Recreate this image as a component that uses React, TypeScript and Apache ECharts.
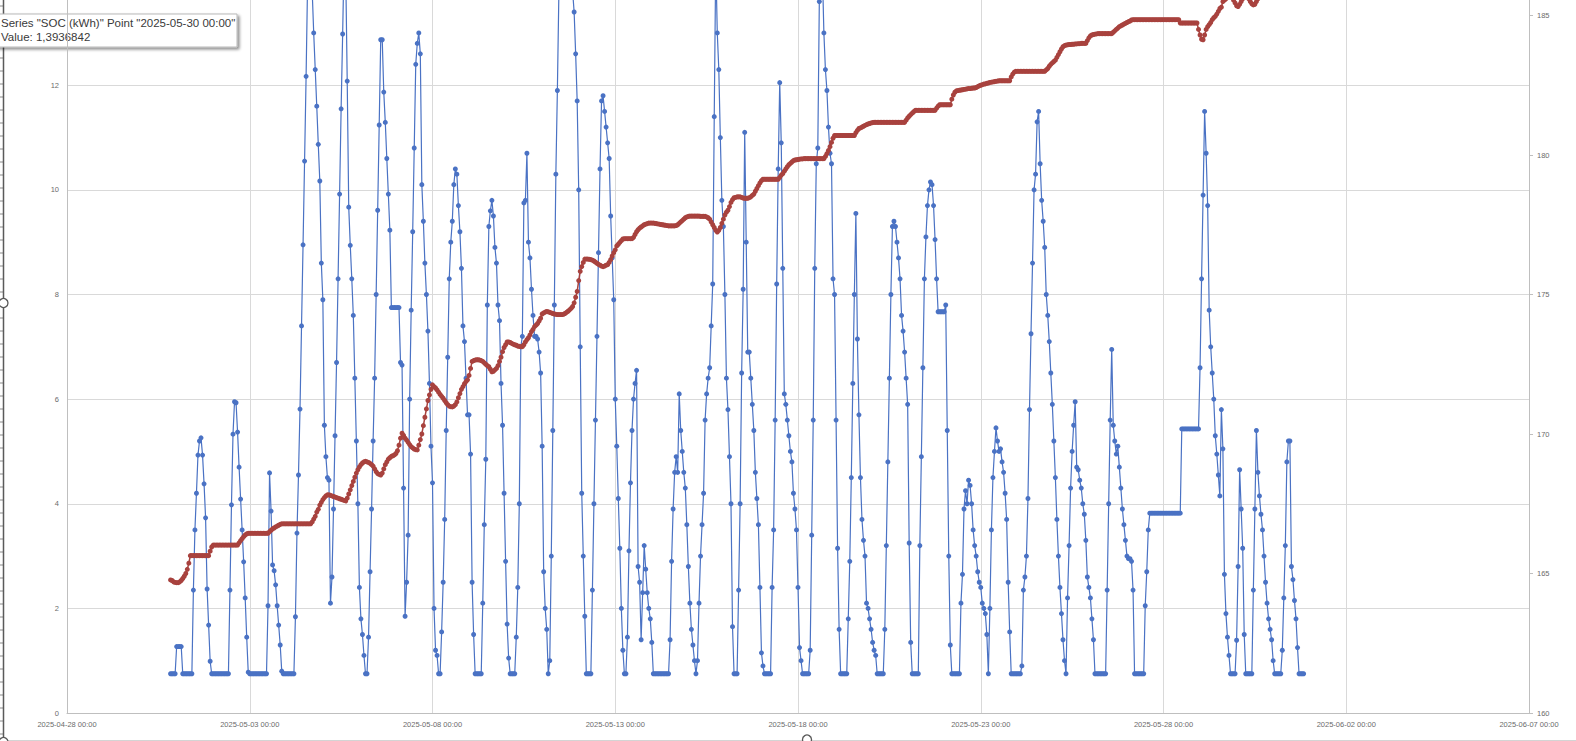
import React, { useEffect, useRef } from "react";
import * as echarts from "echarts";

// x axis: days since 2025-04-28 00:00
const X_ORIGIN = Date.UTC(2025, 3, 28);
const xTickLabels = [
  "2025-04-28 00:00", "2025-05-03 00:00", "2025-05-08 00:00", "2025-05-13 00:00",
  "2025-05-18 00:00", "2025-05-23 00:00", "2025-05-28 00:00", "2025-06-02 00:00", "2025-06-07 00:00",
];

// hourly readings, one row per day (first row starts 2025-04-30 20:00)
const dayDates = [
  "2025-04-30", "2025-05-01", "2025-05-02", "2025-05-03", "2025-05-04", "2025-05-05", "2025-05-06",
  "2025-05-07", "2025-05-08", "2025-05-09", "2025-05-10", "2025-05-11", "2025-05-12", "2025-05-13",
  "2025-05-14", "2025-05-15", "2025-05-16", "2025-05-17", "2025-05-18", "2025-05-19", "2025-05-20",
  "2025-05-21", "2025-05-22", "2025-05-23", "2025-05-24", "2025-05-25", "2025-05-26", "2025-05-27",
  "2025-05-28", "2025-05-29", "2025-05-30", "2025-05-31",
];
const dayFirstHour = [20, 0, 0, 0, 0, 0, 0, 0, 0, 0, 0, 0, 0, 0, 0, 0, 0, 0, 0, 0, 0, 0, 0, 0, 0, 0, 0, 0, 0, 0, 0, 0];

const socDays: number[][] = [
  [0.75, 0.75, 0.75, 0.75],
  [1.27, 1.27, 1.27, 1.27, 0.75, 0.75, 0.75, 0.75, 0.75, 0.75, 0.75, 2.35, 3.5, 4.2, 4.93, 5.2, 5.26, 4.93, 4.38, 3.73, 2.37, 1.68, 0.99, 0.75],
  [0.75, 0.75, 0.75, 0.75, 0.75, 0.75, 0.75, 0.75, 0.75, 0.75, 0.75, 2.35, 3.98, 5.33, 5.95, 5.93, 5.37, 4.7, 4.09, 3.5, 2.89, 2.2, 1.45, 0.78],
  [0.75, 0.75, 0.75, 0.75, 0.75, 0.75, 0.75, 0.75, 0.75, 0.75, 0.75, 0.75, 2.05, 4.59, 3.86, 2.83, 2.72, 2.45, 2.05, 1.68, 1.3, 0.8, 0.75, 0.75],
  [0.75, 0.75, 0.75, 0.75, 0.75, 0.75, 1.84, 3.44, 4.55, 5.81, 7.4, 8.95, 10.55, 12.17, 14.0, 14.8, 14.6, 13.8, 13.0, 12.3, 11.6, 10.87, 10.17, 8.6],
  [7.9, 5.5, 4.9, 4.5, 4.45, 2.1, 2.6, 3.9, 5.3, 6.7, 8.3, 9.92, 11.55, 12.98, 14.5, 14.2, 12.08, 9.67, 8.94, 8.3, 7.6, 6.4, 5.2, 4.0],
  [2.4, 1.8, 1.5, 1.1, 0.75, 0.75, 1.45, 2.7, 3.9, 5.2, 6.4, 8.0, 9.61, 11.24, 12.87, 12.87, 11.87, 11.29, 10.6, 9.92, 9.23, 7.75, 7.75, 7.75],
  [7.75, 7.75, 7.75, 6.7, 6.65, 4.3, 1.85, 2.5, 3.4, 6.0, 7.7, 9.2, 10.8, 12.4, 12.8, 13.0, 12.6, 10.1, 9.4, 8.6, 8.0, 7.3, 6.3, 5.1],
  [4.4, 2.0, 1.2, 1.1, 0.75, 0.75, 1.55, 2.5, 3.7, 5.4, 6.8, 8.3, 9.0, 9.4, 10.1, 10.4, 10.3, 9.7, 9.2, 8.5, 7.4, 7.1, 6.4, 5.7],
  [5.7, 4.95, 2.5, 1.5, 0.75, 0.75, 0.75, 0.75, 0.75, 2.1, 3.6, 4.85, 7.8, 9.3, 9.6, 9.8, 9.5, 8.9, 8.6, 7.8, 7.5, 6.3, 5.5, 4.2],
  [2.9, 1.7, 1.05, 0.75, 0.75, 0.75, 0.75, 1.45, 2.4, 4.0, 7.0, 7.2, 9.75, 9.8, 10.7, 9.0, 8.7, 8.1, 7.6, 7.2, 7.2, 7.15, 6.9, 6.5],
  [5.1, 2.7, 2.0, 1.6, 0.75, 1.0, 3.0, 5.4, 7.8, 10.3, 11.9, 13.8, 14.6, 15.0, 15.2, 15.2, 15.0, 14.8, 14.6, 14.2, 13.8, 13.4, 12.6, 11.7],
  [10.0, 7.0, 4.2, 3.0, 1.85, 0.75, 0.75, 0.75, 0.75, 2.35, 4.0, 5.6, 7.2, 8.8, 10.4, 11.7, 11.8, 11.5, 11.2, 10.9, 10.6, 9.5, 8.7, 7.9],
  [6.0, 5.1, 4.1, 3.15, 2.0, 1.2, 0.75, 0.75, 1.45, 3.1, 4.4, 5.4, 6.0, 6.3, 6.55, 2.8, 2.5, 1.4, 2.3, 3.2, 2.75, 2.3, 2.0, 1.8],
  [1.35, 0.75, 0.75, 0.75, 0.75, 0.75, 0.75, 0.75, 0.75, 0.75, 0.75, 0.75, 1.4, 2.9, 3.9, 4.6, 4.9, 4.6, 6.1, 5.4, 5.0, 4.6, 4.3, 3.6],
  [2.8, 2.1, 1.6, 1.3, 1.0, 0.75, 1.0, 2.1, 3.0, 3.6, 4.2, 5.6, 6.1, 6.4, 6.6, 7.4, 8.2, 11.4, 14.4, 13.0, 12.3, 11.0, 9.8, 9.3],
  [8.0, 6.4, 5.8, 4.9, 4.0, 1.65, 0.75, 0.75, 0.75, 2.35, 4.0, 6.5, 8.1, 11.1, 9.0, 6.9, 6.9, 6.4, 5.9, 5.4, 4.6, 4.1, 3.6, 2.4],
  [1.15, 0.9, 0.75, 0.75, 0.75, 0.75, 0.75, 2.4, 3.5, 5.6, 8.2, 10.4, 12.05, 10.9, 8.5, 6.1, 5.9, 5.6, 5.3, 5.0, 4.8, 4.2, 3.9, 3.5],
  [2.4, 1.25, 1.0, 0.75, 0.75, 0.75, 0.75, 0.75, 1.2, 3.4, 5.6, 8.5, 10.5, 10.8, 13.6, 14.2, 14.2, 13.0, 12.3, 11.9, 11.2, 10.7, 10.5, 8.3],
  [8.0, 5.6, 3.15, 1.6, 0.75, 0.75, 0.75, 0.75, 0.75, 1.8, 2.9, 4.5, 6.3, 8.0, 9.55, 7.15, 5.7, 4.5, 3.7, 3.3, 3.0, 2.1, 2.0, 1.8],
  [1.6, 1.35, 1.2, 1.1, 0.75, 0.75, 0.75, 0.75, 0.75, 1.6, 3.2, 4.8, 6.4, 8.0, 9.3, 9.4, 9.3, 9.0, 8.7, 8.3, 7.6, 7.3, 6.9, 6.4],
  [5.9, 3.25, 1.35, 0.75, 0.75, 0.75, 0.75, 0.75, 3.2, 4.9, 6.6, 8.3, 9.1, 9.7, 10.0, 10.15, 10.1, 9.7, 9.05, 8.3, 7.67, 7.67, 7.67, 7.67],
  [7.67, 7.8, 5.4, 3.0, 1.3, 0.75, 0.75, 0.75, 0.75, 0.75, 0.75, 2.1, 2.65, 3.9, 4.25, 4.0, 4.45, 4.35, 4.0, 3.5, 3.2, 3.0, 2.7, 2.5],
  [2.4, 2.1, 2.0, 1.9, 1.5, 0.75, 2.0, 3.5, 4.5, 5.0, 5.45, 5.2, 5.0, 5.05, 4.8, 4.6, 4.2, 3.7, 2.5, 1.55, 0.75, 0.75, 0.75, 0.75],
  [0.75, 0.75, 0.75, 0.9, 2.35, 2.6, 3.0, 4.1, 5.8, 7.25, 8.6, 10.0, 10.3, 11.3, 11.5, 10.5, 9.8, 9.4, 8.9, 8.0, 7.6, 7.1, 6.5, 5.9],
  [5.2, 4.5, 3.7, 3.0, 2.4, 1.9, 1.4, 1.0, 0.75, 2.2, 3.2, 4.3, 5.0, 5.5, 5.95, 4.7, 4.65, 4.45, 4.3, 4.0, 3.8, 3.3, 2.6, 2.4],
  [2.2, 1.8, 1.4, 0.75, 0.75, 0.75, 0.75, 0.75, 0.75, 0.75, 0.75, 2.35, 4.0, 5.6, 6.95, 5.5, 5.2, 4.95, 5.1, 4.7, 4.3, 3.9, 3.6, 3.3],
  [3.0, 2.95, 2.95, 2.9, 2.35, 0.75, 0.75, 0.75, 0.75, 0.75, 0.75, 0.75, 2.05, 2.7, 3.5, 3.82, 3.82, 3.82, 3.82, 3.82, 3.82, 3.82, 3.82, 3.82],
  [3.82, 3.82, 3.82, 3.82, 3.82, 3.82, 3.82, 3.82, 3.82, 3.82, 3.82, 3.82, 5.43, 5.43, 5.43, 5.43, 5.43, 5.43, 5.43, 5.43, 5.43, 5.43, 5.43, 5.43],
  [6.6, 8.3, 9.9, 11.5, 10.7, 9.7, 7.7, 7.0, 6.5, 6.0, 5.3, 4.95, 4.55, 4.15, 5.8, 5.05, 2.65, 1.9, 1.45, 1.1, 0.75, 0.75, 0.75, 0.75],
  [1.39, 2.8, 4.65, 3.9, 3.15, 1.5, 0.75, 0.75, 0.75, 0.75, 0.75, 2.35, 3.9, 5.4, 4.6, 4.15, 3.8, 3.5, 3.0, 2.5, 2.1, 1.8, 1.6, 1.4],
  [1.0, 0.75, 0.75, 0.75, 0.75, 0.75, 1.2, 2.2, 3.2, 4.8, 5.2, 5.2, 2.8, 2.55, 2.15, 1.8, 1.25, 0.75, 0.75, 0.75, 0.75],
];

const redDays: number[][] = [
  [164.77, 164.75, 164.7, 164.68],
  [164.67, 164.67, 164.7, 164.75, 164.82, 164.9, 165.0, 165.15, 165.37, 165.64, 165.64, 165.64, 165.64, 165.64, 165.64, 165.64, 165.64, 165.64, 165.64, 165.64, 165.64, 165.64, 165.8, 165.95],
  [166.02, 166.02, 166.02, 166.02, 166.02, 166.02, 166.02, 166.02, 166.02, 166.02, 166.02, 166.02, 166.02, 166.02, 166.02, 166.02, 166.02, 166.1, 166.18, 166.25, 166.32, 166.38, 166.42, 166.44],
  [166.44, 166.44, 166.44, 166.44, 166.44, 166.44, 166.44, 166.44, 166.44, 166.44, 166.44, 166.44, 166.44, 166.5, 166.55, 166.6, 166.63, 166.67, 166.7, 166.73, 166.76, 166.78, 166.78, 166.78],
  [166.78, 166.78, 166.78, 166.78, 166.78, 166.78, 166.78, 166.78, 166.78, 166.78, 166.78, 166.78, 166.78, 166.78, 166.78, 166.78, 166.78, 166.85, 166.95, 167.05, 167.2, 167.3, 167.45, 167.55],
  [167.65, 167.72, 167.78, 167.82, 167.82, 167.8, 167.78, 167.76, 167.74, 167.72, 167.7, 167.68, 167.66, 167.64, 167.62, 167.6, 167.7, 167.85, 168.0, 168.15, 168.3, 168.45, 168.6, 168.72],
  [168.82, 168.9, 168.96, 169.0, 169.02, 169.0, 168.98, 168.95, 168.9, 168.85, 168.75, 168.65, 168.58, 168.55, 168.53, 168.6, 168.75, 168.9, 169.0, 169.1, 169.15, 169.2, 169.22, 169.25],
  [169.3, 169.4, 169.6, 169.85, 170.03, 169.95, 169.85, 169.78, 169.7, 169.62, 169.55, 169.5, 169.46, 169.44, 169.43, 169.6, 169.8, 170.0, 170.3, 170.6, 170.9, 171.2, 171.4, 171.6],
  [171.76, 171.7, 171.65, 171.58, 171.5, 171.42, 171.35, 171.28, 171.2, 171.12, 171.05, 171.0, 170.98, 170.97, 171.0, 171.05, 171.15, 171.3, 171.45, 171.6, 171.7, 171.8, 171.88, 171.94],
  [172.1, 172.35, 172.6, 172.63, 172.65, 172.66, 172.66, 172.65, 172.63, 172.6, 172.55, 172.5, 172.45, 172.41, 172.32, 172.23, 172.25, 172.3, 172.35, 172.45, 172.6, 172.75, 172.95, 173.1],
  [173.2, 173.3, 173.3, 173.28, 173.25, 173.22, 173.2, 173.18, 173.15, 173.14, 173.13, 173.13, 173.2, 173.3, 173.38, 173.45, 173.55, 173.67, 173.75, 173.85, 173.9, 173.96, 174.05, 174.15],
  [174.3, 174.34, 174.37, 174.39, 174.38, 174.36, 174.34, 174.32, 174.3, 174.29, 174.28, 174.28, 174.28, 174.28, 174.29, 174.32, 174.36, 174.4, 174.45, 174.5, 174.57, 174.7, 174.9, 175.11],
  [175.5, 175.83, 176.0, 176.15, 176.27, 176.27, 176.27, 176.26, 176.25, 176.23, 176.2, 176.16, 176.12, 176.08, 176.05, 176.02, 176.0, 176.02, 176.05, 176.07, 176.15, 176.25, 176.38, 176.5],
  [176.6, 176.74, 176.8, 176.87, 176.93, 176.99, 177.0, 177.0, 177.0, 177.0, 177.0, 177.0, 177.05, 177.15, 177.25, 177.32, 177.38, 177.42, 177.46, 177.5, 177.52, 177.54, 177.56, 177.56],
  [177.56, 177.56, 177.55, 177.54, 177.53, 177.52, 177.51, 177.5, 177.49, 177.48, 177.47, 177.46, 177.46, 177.46, 177.46, 177.46, 177.47, 177.5, 177.55, 177.6, 177.65, 177.7, 177.75, 177.78],
  [177.8, 177.81, 177.81, 177.81, 177.81, 177.81, 177.81, 177.81, 177.8, 177.8, 177.8, 177.8, 177.78, 177.75, 177.7, 177.6, 177.5, 177.4, 177.3, 177.24, 177.3, 177.4, 177.55, 177.7],
  [177.85, 177.95, 178.02, 178.15, 178.3, 178.4, 178.47, 178.48, 178.5, 178.5, 178.5, 178.48, 178.46, 178.45, 178.45, 178.45, 178.47, 178.5, 178.55, 178.6, 178.7, 178.8, 178.9, 179.0],
  [179.08, 179.13, 179.13, 179.13, 179.13, 179.13, 179.13, 179.13, 179.13, 179.13, 179.13, 179.13, 179.2, 179.28, 179.33, 179.42, 179.5, 179.58, 179.65, 179.7, 179.75, 179.8, 179.82, 179.83],
  [179.84, 179.85, 179.86, 179.86, 179.87, 179.87, 179.87, 179.87, 179.87, 179.87, 179.87, 179.87, 179.87, 179.87, 179.87, 179.87, 179.87, 179.87, 179.95, 180.05, 180.16, 180.3, 180.45, 180.6],
  [180.7, 180.7, 180.7, 180.7, 180.7, 180.7, 180.7, 180.7, 180.7, 180.7, 180.7, 180.7, 180.7, 180.7, 180.8, 180.88, 180.95, 180.97, 181.0, 181.03, 181.06, 181.09, 181.11, 181.13],
  [181.15, 181.16, 181.17, 181.17, 181.17, 181.17, 181.17, 181.17, 181.17, 181.17, 181.17, 181.17, 181.17, 181.17, 181.17, 181.17, 181.17, 181.17, 181.17, 181.17, 181.17, 181.17, 181.17, 181.25],
  [181.33, 181.39, 181.45, 181.5, 181.55, 181.6, 181.6, 181.6, 181.6, 181.6, 181.6, 181.6, 181.6, 181.6, 181.6, 181.6, 181.6, 181.6, 181.6, 181.68, 181.75, 181.8, 181.8, 181.8],
  [181.8, 181.8, 181.8, 181.8, 181.8, 182.0, 182.15, 182.25, 182.3, 182.31, 182.32, 182.33, 182.34, 182.35, 182.36, 182.37, 182.38, 182.38, 182.39, 182.4, 182.4, 182.42, 182.45, 182.48],
  [182.5, 182.52, 182.54, 182.55, 182.57, 182.58, 182.6, 182.61, 182.62, 182.63, 182.64, 182.65, 182.66, 182.66, 182.66, 182.66, 182.66, 182.66, 182.66, 182.66, 182.8, 182.9, 182.97, 183.0],
  [183.0, 183.0, 183.0, 183.0, 183.0, 183.0, 183.0, 183.0, 183.0, 183.0, 183.0, 183.0, 183.0, 183.0, 183.0, 183.0, 183.0, 183.0, 183.0, 183.05, 183.1, 183.18, 183.25, 183.3],
  [183.35, 183.4, 183.5, 183.6, 183.7, 183.8, 183.88, 183.92, 183.94, 183.95, 183.96, 183.96, 183.97, 183.97, 183.98, 183.98, 183.99, 183.99, 184.0, 184.0, 184.0, 184.0, 184.1, 184.2],
  [184.27, 184.3, 184.32, 184.33, 184.34, 184.35, 184.35, 184.35, 184.35, 184.35, 184.35, 184.35, 184.35, 184.35, 184.35, 184.4, 184.45, 184.5, 184.55, 184.6, 184.63, 184.66, 184.69, 184.72],
  [184.75, 184.78, 184.8, 184.84, 184.85, 184.85, 184.85, 184.85, 184.85, 184.85, 184.85, 184.85, 184.85, 184.85, 184.85, 184.85, 184.85, 184.85, 184.85, 184.85, 184.85, 184.85, 184.85, 184.85],
  [184.85, 184.85, 184.85, 184.85, 184.85, 184.85, 184.85, 184.85, 184.85, 184.85, 184.85, 184.73, 184.73, 184.73, 184.73, 184.73, 184.73, 184.73, 184.73, 184.73, 184.73, 184.73, 184.73, 184.5],
  [184.3, 184.15, 184.13, 184.3, 184.5, 184.6, 184.67, 184.75, 184.85, 184.92, 184.97, 185.05, 185.15, 185.25, 185.3, 185.5, 185.55, 185.6, 185.66, 185.7, 185.7, 185.65, 185.55, 185.45],
  [185.35, 185.32, 185.4, 185.5, 185.6, 185.65, 185.7, 185.68, 185.6, 185.5, 185.42, 185.38, 185.4, 185.5, 185.6, 185.65, 185.7, 185.72, 185.75, 185.74, 185.72, 185.7, 185.72, 185.74],
  [185.76, 185.77, 185.78, 185.8, 185.82, 185.85, 185.87, 185.88, 185.9, 185.92, 185.95, 185.97, 186.0, 186.02, 186.05, 186.07, 186.1, 186.12, 186.14, 186.16, 186.18],
];

const tooltipLines = ['Series "SOC (kWh)" Point "2025-05-30 00:00"', "Value: 1,3936842"];

// the visible picture is the lower part of a taller chart: its plot top lies above the window
const OFF = 124;
// highest tick labels that fall inside the window
const leftLabelMax = 12;
const rightLabelMax = 185;

function toSeries(days: number[][]): [number, number][] {
  const out: [number, number][] = [];
  days.forEach((row, d) => {
    const [y, m, dd] = dayDates[d].split("-").map(Number);
    row.forEach((v, i) => {
      const t = Date.UTC(y, m - 1, dd, dayFirstHour[d] + i);
      out.push([(t - X_ORIGIN) / 86400000, v]);
    });
  });
  return out;
}

export default function App() {
  const ref = useRef<HTMLDivElement>(null);
  useEffect(() => {
    if (!ref.current) return;
    const chart = echarts.init(ref.current, undefined, { renderer: "svg" });
    const labelStyle = { color: "#6b6b6b", fontSize: 7.5, fontFamily: "Liberation Sans, Arial, sans-serif" };
    const frameTicks: any[] = [];
    for (let y = 6; y < 741; y += 13) {
      frameTicks.push({ type: "line", shape: { x1: 0, y1: y + OFF, x2: 3, y2: y + OFF }, style: { stroke: "#8a8a8a", lineWidth: 1 }, silent: true });
    }

    chart.setOption({
      animation: false,
      backgroundColor: "#ffffff",
      grid: { left: 67, right: 47, top: 0, bottom: 28, containLabel: false },
      xAxis: {
        type: "value",
        min: 0,
        max: 40,
        interval: 5,
        axisLine: { show: true, lineStyle: { color: "#bfbfbf", width: 1 } },
        axisTick: { show: false },
        splitLine: { show: true, lineStyle: { color: "#d9d9d9", width: 1 } },
        axisLabel: { ...labelStyle, margin: 7, formatter: (v: number) => xTickLabels[Math.round(v / 5)] ?? "" },
      },
      yAxis: [
        {
          type: "value",
          min: 0,
          max: 16,
          interval: 2,
          position: "left",
          axisLine: { show: true, lineStyle: { color: "#bfbfbf", width: 1 } },
          axisTick: { show: false },
          splitLine: { show: true, lineStyle: { color: "#d9d9d9", width: 1 } },
          axisLabel: { ...labelStyle, margin: 8, formatter: (v: number) => (v > leftLabelMax ? "" : String(v)) },
        },
        {
          type: "value",
          min: 160,
          max: 190,
          interval: 5,
          position: "right",
          axisLine: { show: true, lineStyle: { color: "#bfbfbf", width: 1 } },
          axisTick: { show: true, length: 4, lineStyle: { color: "#bfbfbf" } },
          splitLine: { show: false },
          axisLabel: { ...labelStyle, margin: 8, formatter: (v: number) => (v > rightLabelMax ? "" : String(v)) },
        },
      ],
      series: [
        {
          name: "SOC (kWh)",
          type: "line",
          yAxisIndex: 0,
          data: toSeries(socDays),
          symbol: "circle",
          symbolSize: 5,
          showSymbol: true,
          showAllSymbol: true,
          lineStyle: { color: "#4a72c4", width: 1.2 },
          itemStyle: { color: "#4a72c4" },
          z: 2,
        },
        {
          name: "Series 2",
          type: "line",
          yAxisIndex: 1,
          data: toSeries(redDays),
          symbol: "circle",
          symbolSize: 5,
          showSymbol: true,
          showAllSymbol: true,
          lineStyle: { color: "#a8423e", width: 1.5 },
          itemStyle: { color: "#a8423e" },
          z: 3,
        },
      ],
      graphic: [
        ...frameTicks,
        { type: "line", shape: { x1: 3.5, y1: OFF, x2: 3.5, y2: 741 + OFF }, style: { stroke: "#5a5a5a", lineWidth: 1.5 }, silent: true },
        { type: "line", shape: { x1: 0, y1: 740.5 + OFF, x2: 1576, y2: 740.5 + OFF }, style: { stroke: "#d4d4d4", lineWidth: 1 }, silent: true },
        { type: "circle", shape: { cx: 3.5, cy: 303 + OFF, r: 4.5 }, style: { fill: "#ffffff", stroke: "#5a5a5a", lineWidth: 1.3 }, silent: true },
        { type: "circle", shape: { cx: 3.5, cy: 742 + OFF, r: 4.5 }, style: { fill: "#ffffff", stroke: "#5a5a5a", lineWidth: 1.3 }, silent: true },
        { type: "circle", shape: { cx: 807, cy: 739.5 + OFF, r: 4.5 }, style: { fill: "#ffffff", stroke: "#5a5a5a", lineWidth: 1.3 }, silent: true },
        {
          type: "rect",
          shape: { x: -10, y: 14 + OFF, width: 247, height: 33 },
          style: { fill: "#ffffff", stroke: "#b9b9b9", lineWidth: 1, shadowBlur: 3, shadowOffsetX: 2, shadowOffsetY: 2, shadowColor: "rgba(0,0,0,0.45)" },
          silent: true,
        },
        { type: "text", x: 1, y: 17 + OFF, style: { text: tooltipLines[0], fill: "#3a3a3a", fontSize: 11.5, fontFamily: "Liberation Sans, Arial, sans-serif" }, silent: true },
        { type: "text", x: 1, y: 31 + OFF, style: { text: tooltipLines[1], fill: "#3a3a3a", fontSize: 11.5, fontFamily: "Liberation Sans, Arial, sans-serif" }, silent: true },
      ],
    });
    return () => chart.dispose();
  }, []);
  return <div ref={ref} style={{ position: "fixed", left: 0, top: -OFF, width: 1576, height: 741 + OFF }} />;
}
